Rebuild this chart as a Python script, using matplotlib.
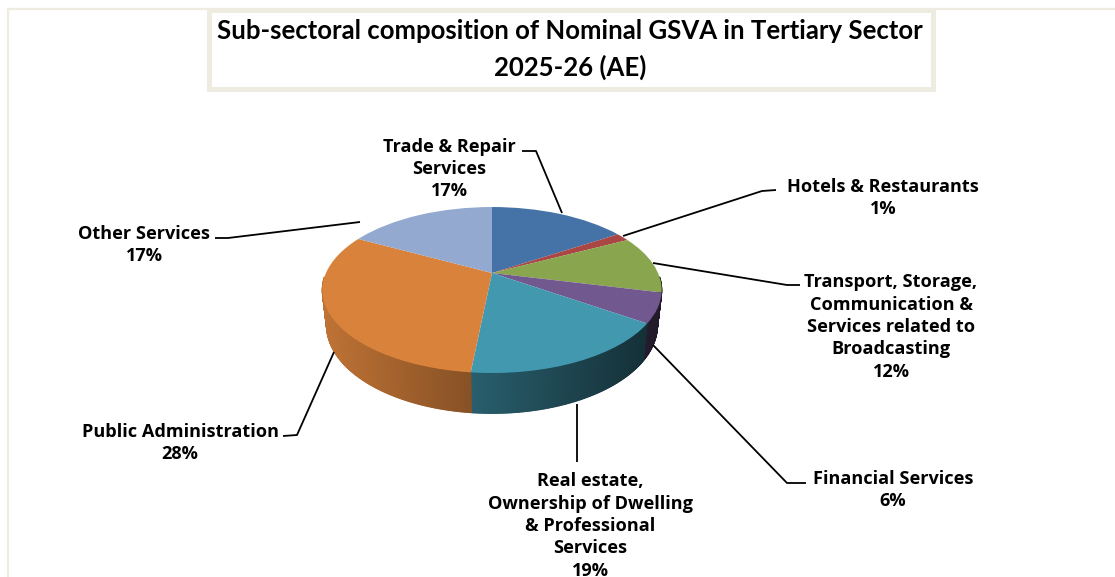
import numpy as np
import matplotlib
matplotlib.use("Agg")
import matplotlib.pyplot as plt
from matplotlib.collections import PolyCollection
from matplotlib.colors import to_rgb
from matplotlib.patches import Rectangle
from matplotlib.transforms import Transform

# ---- data -------------------------------------------------------------
sectors = ["Trade & Repair\nServices", "Hotels & Restaurants",
           "Transport, Storage,\nCommunication &\nServices related to\nBroadcasting",
           "Financial Services",
           "Real estate,\nOwnership of Dwelling\n& Professional\nServices",
           "Public Administration", "Other Services"]
pct_labels = ["17%", "1%", "12%", "6%", "19%", "28%", "17%"]
# slice sizes as drawn in the picture
drawn_shares = [15.9, 1.6, 11.2, 5.75, 17.1, 31.1, 17.2]
colors = ["#4572A7", "#AA4643", "#89A54E", "#71588F", "#4198AF", "#D9823C", "#93A9CF"]
title_lines = ["Sub-sectoral composition of Nominal GSVA in Tertiary Sector", "2025-26 (AE)"]

# ---- layout -----------------------------------------------------------
W, H = 1115, 577
CX, CY, RX, RY, K = 492, 273, 166, 79.5, 0.205
DEPTH, SHRINK = 34, 0.975
BORDER = "#EEECE1"
label_pos = [(449.5, 169), (883, 198), (891, 327), (893, 490), (590, 526), (180, 443), (144.5, 245)]
leaders = [[(522, 151), (536, 151), (562, 213)],
           [(623, 236), (762, 191), (776, 190)],
           [(653, 263), (787, 285), (800, 285)],
           [(653, 345), (787, 483), (806, 483)],
           [(577, 404), (577, 462)],
           [(334, 352), (297, 435), (283, 436)],
           [(360, 222), (228, 238), (215, 238)]]


def project(x, y, bottom=False):
    """Perspective view of the unit disc, in picture coordinates."""
    w = 1 + K * y
    px, py = RX * x / w, RY * y / w
    if bottom:
        return CX + SHRINK * px, CY - SHRINK * py + DEPTH / w
    return CX + px, CY - py


class Perspective(Transform):
    input_dims = output_dims = 2
    is_separable = False
    has_inverse = False

    def transform_non_affine(self, values):
        values = np.asarray(values, float)
        return np.column_stack(project(values[:, 0], values[:, 1]))


fig = plt.figure(figsize=(W / 100, H / 100), dpi=100, facecolor="white")
ax = fig.add_axes([0, 0, 1, 1])

# side wall, split into thin strips so that it can be shaded across its width
fractions = np.cumsum([0] + drawn_shares) / sum(drawn_shares)
polys, face = [], []
for i, col in enumerate(colors):
    a0, a1 = 90 - 360 * fractions[i], 90 - 360 * fractions[i + 1]
    n = max(2, int(abs(a1 - a0) / 0.4))
    ang = np.radians(np.linspace(a0, a1, n))
    base = np.array(to_rgb(col))
    for t0, t1 in zip(ang[:-1], ang[1:]):
        if np.sin((t0 + t1) / 2) > -0.05:
            continue
        xs = np.cos([t0, t1])
        ys = np.sin([t0, t1])
        tx, ty = project(xs, ys)
        bx, by = project(xs, ys, bottom=True)
        polys.append([(tx[0], ty[0]), (tx[1], ty[1]), (bx[1], by[1]), (bx[0], by[0])])
        shade = np.clip(0.62 - 0.00173 * (tx.mean() - 472), 0.25, 0.9)
        face.append(base * shade)
ax.add_collection(PolyCollection(polys, facecolors=face, edgecolors=face, linewidths=0.9, zorder=1))

# top face
wedges, _ = ax.pie(drawn_shares, colors=colors, startangle=90, counterclock=False,
                   wedgeprops=dict(linewidth=0))
persp = Perspective() + ax.transData
for wd in wedges:
    wd.set_transform(persp)
    wd.set_zorder(2)

ax.set_aspect("auto")
ax.set_xlim(0, W)
ax.set_ylim(H, 0)
ax.axis("off")

# chart border and title box
ax.plot([8, 8, W], [H, 9, 9], color=BORDER, lw=1.6, solid_joinstyle="miter", zorder=3)
ax.add_patch(Rectangle((208.5, 9.5), 724.5, 79, facecolor="white", edgecolor=BORDER, lw=3.6, zorder=4))
for line, y in zip(title_lines, (31, 67)):
    ax.text(570, y, line, ha="center", va="center", fontsize=18.5, fontweight="bold",
            family="Lato", color="black", zorder=5)

# leader lines and labels
for pts in leaders:
    px, py = zip(*pts)
    ax.plot(px, py, color="black", lw=1.3, zorder=3, solid_capstyle="butt")
for name, pct, (x, y) in zip(sectors, pct_labels, label_pos):
    ax.text(x, y, f"{name}\n{pct}", ha="center", va="center", fontsize=13.1, fontweight="bold",
            family="Open Sans", color="black", linespacing=1.31, zorder=5)

fig.savefig("out.png", dpi=100)
